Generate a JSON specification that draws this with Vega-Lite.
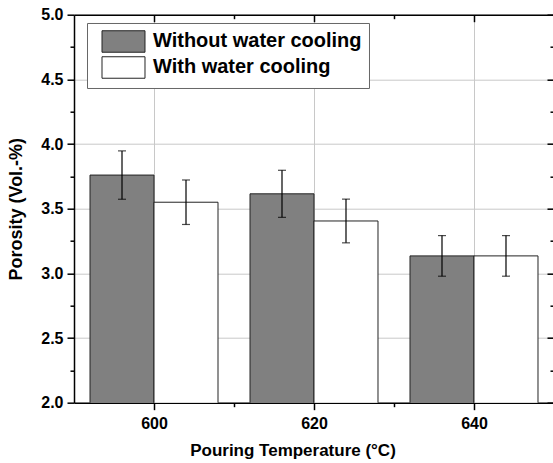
{
  "$schema": "https://vega.github.io/schema/vega-lite/v6.json",
  "width": 480,
  "height": 388,
  "autosize": "none",
  "padding": {"left": 74, "top": 14.7, "right": 0, "bottom": 60},
  "background": "white",
  "config": {"view": {"stroke": null}, "font": "Liberation Sans"},
  "data": {"values": [
    {"temp": 600, "group": "Without water cooling", "value": 3.76, "err": 0.187},
    {"temp": 600, "group": "With water cooling", "value": 3.55, "err": 0.172},
    {"temp": 620, "group": "Without water cooling", "value": 3.615, "err": 0.182},
    {"temp": 620, "group": "With water cooling", "value": 3.405, "err": 0.169},
    {"temp": 640, "group": "Without water cooling", "value": 3.135, "err": 0.157},
    {"temp": 640, "group": "With water cooling", "value": 3.135, "err": 0.157}
  ]},
  "layer": [
    {
      "mark": {"type": "point", "opacity": 0},
      "encoding": {
        "x": {"field": "temp", "type": "quantitative", "scale": {"domain": [590, 650], "nice": false, "zero": false},
          "axis": {"orient": "bottom", "values": [600, 610, 620, 630, 640], "format": "d",
            "labelExpr": "datum.value % 20 == 0 ? datum.label : ''", "labelOverlap": false,
            "labelFont": "Liberation Sans", "labelFontSize": 16, "labelFontWeight": "bold", "labelColor": "black", "labelPadding": 6,
            "tickSize": {"condition": {"test": "datum.value % 20 == 0", "value": 7}, "value": 4},
            "tickColor": "black", "tickWidth": 1.5, "domainColor": "black", "domainWidth": 1.5,
            "grid": true, "gridColor": "#c8c8c8", "gridWidth": 1,
            "gridOpacity": {"condition": {"test": "datum.value % 20 == 0", "value": 1}, "value": 0},
            "title": "Pouring Temperature (°C)", "titleFont": "Liberation Sans", "titleFontSize": 17, "titleFontWeight": "bold", "titleColor": "black", "titlePadding": 11, "titleX": 218.5}
        }
      }
    },
    {
      "mark": {"type": "point", "opacity": 0},
      "encoding": {
        "x": {"field": "temp", "type": "quantitative", "scale": {"domain": [590, 650], "nice": false, "zero": false},
          "axis": {"orient": "top", "values": [600, 610, 620, 630, 640], "labels": false, "title": null, "grid": false,
            "tickSize": {"condition": {"test": "datum.value % 20 == 0", "value": -7}, "value": -4},
            "tickColor": "black", "tickWidth": 1.5, "domainColor": "black", "domainWidth": 1.5}
        },
        "y": {"field": "value", "type": "quantitative", "scale": {"domain": [2, 5], "nice": false, "zero": false},
          "axis": {"orient": "right", "values": [2, 2.25, 2.5, 2.75, 3, 3.25, 3.5, 3.75, 4, 4.25, 4.5, 4.75, 5], "labels": false, "title": null, "grid": false,
            "tickSize": {"condition": {"test": "round(datum.value*100) % 50 == 0", "value": -7}, "value": -4},
            "tickColor": "black", "tickWidth": 1.5, "domainColor": "black", "domainWidth": 1.5}
        }
      }
    },
    {
      "mark": {"type": "bar", "stroke": "#222222", "strokeWidth": 1, "clip": true},
      "encoding": {
        "x": {"field": "temp", "type": "ordinal", "scale": {"paddingInner": 0.2, "paddingOuter": 0.1}, "axis": null},
        "xOffset": {"field": "group", "type": "nominal", "sort": ["Without water cooling", "With water cooling"], "scale": {"paddingInner": 0, "paddingOuter": 0}},
        "y": {"field": "value", "type": "quantitative", "scale": {"domain": [2, 5], "nice": false, "zero": false},
          "axis": {"orient": "left", "values": [2, 2.25, 2.5, 2.75, 3, 3.25, 3.5, 3.75, 4, 4.25, 4.5, 4.75, 5], "format": ".1f",
            "labelExpr": "round(datum.value*100) % 50 == 0 ? datum.label : ''", "labelOverlap": false,
            "labelFont": "Liberation Sans", "labelFontSize": 16, "labelFontWeight": "bold", "labelColor": "black", "labelPadding": 4,
            "tickSize": {"condition": {"test": "round(datum.value*100) % 50 == 0", "value": 7}, "value": 4},
            "tickColor": "black", "tickWidth": 1.5, "domainColor": "black", "domainWidth": 1.5,
            "grid": true, "gridColor": "#c8c8c8", "gridWidth": 1,
            "gridOpacity": {"condition": {"test": "round(datum.value*100) % 50 == 0", "value": 1}, "value": 0},
            "title": "Porosity (Vol.-%)", "titleFont": "Liberation Sans", "titleFontSize": 18, "titleFontWeight": "bold", "titleColor": "black", "titlePadding": 15}
        },
        "color": {"field": "group", "type": "nominal",
          "scale": {"domain": ["Without water cooling", "With water cooling"], "range": ["#808080", "#ffffff"]},
          "legend": {"orient": "none", "legendX": 13, "legendY": 8.3, "title": null,
            "symbolType": "M-2,-1H2V1H-2Z", "symbolSize": 462, "symbolStrokeColor": "#222222", "symbolStrokeWidth": 1, "symbolOpacity": 1,
            "labelFont": "Liberation Sans", "labelFontSize": 20, "labelFontWeight": "bold", "labelColor": "black", "labelOffset": 18, "labelLimit": 400,
            "rowPadding": -1, "padding": 7, "symbolOffset": 18, "strokeColor": "#666666", "fillColor": "white"}
        }
      }
    },
    {
      "mark": {"type": "errorbar", "ticks": {"size": 8, "color": "black"}, "rule": {"color": "black"}, "thickness": 1.2},
      "encoding": {
        "x": {"field": "temp", "type": "ordinal", "scale": {"paddingInner": 0.2, "paddingOuter": 0.1}, "axis": null},
        "xOffset": {"field": "group", "type": "nominal", "sort": ["Without water cooling", "With water cooling"], "scale": {"paddingInner": 0, "paddingOuter": 0}},
        "y": {"field": "value", "type": "quantitative", "axis": null},
        "yError": {"field": "err"}
      }
    }
  ],
  "resolve": {"scale": {"x": "independent"}, "axis": {"x": "independent", "y": "independent"}}
}
